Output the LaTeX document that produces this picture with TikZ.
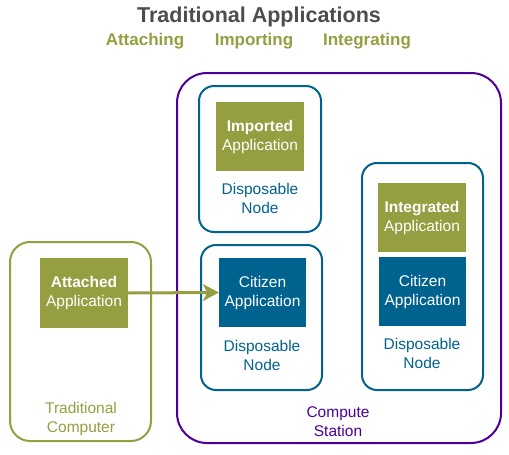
\documentclass[tikz,border=0pt]{standalone}
\usepackage{fontspec}
\setmainfont{Liberation Sans}
\usetikzlibrary{arrows.meta}
\definecolor{olv}{HTML}{959E40}
\definecolor{nblue}{HTML}{00628E}
\definecolor{purp}{HTML}{4C0099}
\definecolor{tgray}{HTML}{4D4D4D}
\begin{document}
\begin{tikzpicture}[x=1pt,y=-1pt,
  appbox/.style={fill=#1, minimum width=88pt, minimum height=69pt, text=white,
    font=\fontsize{15.5}{19}\selectfont, align=center, inner sep=0pt},
  nodebox/.style={draw=nblue, line width=2pt, rounded corners=15pt, inner sep=0pt},
  nlabel/.style={text=nblue, font=\fontsize{15.5}{19}\selectfont, align=center, inner sep=0pt},
  sub/.style={text=olv, font=\fontsize{17}{20}\selectfont\bfseries, inner sep=0pt}]
\useasboundingbox (0,0) rectangle (509,455);
% title
\node[text=tgray, font=\fontsize{21.5}{24}\selectfont\bfseries, inner sep=0pt] (title) at (259,17) {Traditional Applications};
\node[sub] (s1) at (145,41) {Attaching};
\node[sub] (s2) at (254,41) {Importing};
\node[sub] (s3) at (367,41) {Integrating};
% containers
\node[draw=purp, line width=2pt, rounded corners=30pt, minimum width=324pt, minimum height=370pt, inner sep=0pt] (cs) at (339,258) {};
\node[draw=olv, line width=2pt, rounded corners=20pt, minimum width=141pt, minimum height=199pt, inner sep=0pt] (tc) at (80.5,341.5) {};
\node[nodebox, minimum width=122pt, minimum height=146pt] (n1) at (260,159) {};
\node[nodebox, minimum width=121pt, minimum height=145pt] (n2) at (261.5,317.5) {};
\node[nodebox, minimum width=121pt, minimum height=227pt] (n3) at (422.5,276.5) {};
% apps
\node[appbox=olv] (imp) at (260,136.5) {\textbf{Imported}\\Application};
\node[appbox=olv, minimum height=70pt] (att) at (84,293) {\textbf{Attached}\\Application};
\node[appbox=nblue, minimum width=87pt] (cit1) at (262.5,292.5) {Citizen\\Application};
\node[appbox=olv] (int) at (422,217.5) {\textbf{Integrated}\\Application};
\node[appbox=nblue, minimum width=87pt] (cit2) at (422.5,291.5) {Citizen\\Application};
% labels
\node[nlabel] (l1) at (260,198) {Disposable\\Node};
\node[nlabel] (l2) at (262,355.5) {Disposable\\Node};
\node[nlabel] (l3) at (422,353) {Disposable\\Node};
\node[nlabel, text=purp] (l4) at (338,421.5) {Compute\\Station};
\node[nlabel, text=olv] (l5) at (81,418.5) {Traditional\\Computer};
% arrow
\draw[olv, line width=3pt, -{Stealth[length=16pt, width=17pt, inset=4.5pt]}] (att.east) -- (cit1.west);
\end{tikzpicture}
\end{document}
